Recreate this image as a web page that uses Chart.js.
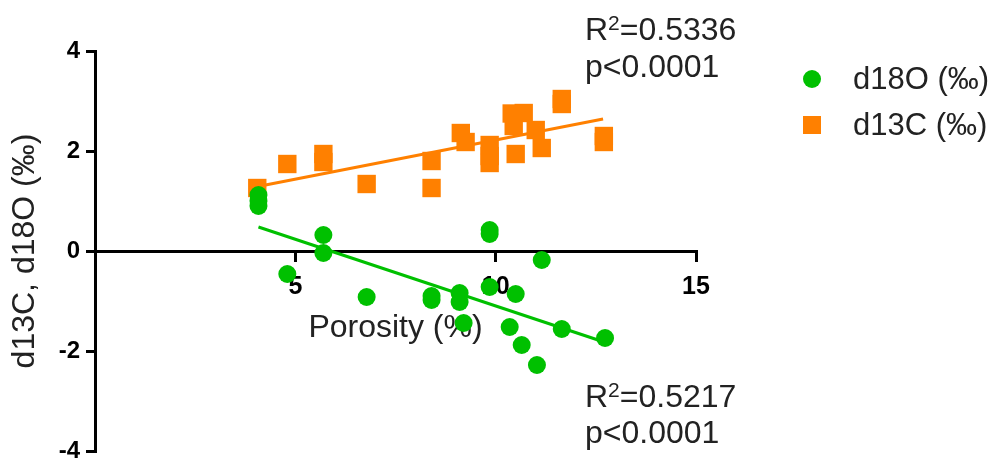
<!DOCTYPE html>
<html lang="en">

<head>
    <meta charset="UTF-8">
    <title>Porosity vs d13C / d18O</title>
    <style>
        html, body {
            margin: 0;
            padding: 0;
            background: #fff;
        }

        .box {
            width: 1003px;
            height: 464px;
        }
    </style>
</head>

<body>
    <div class="box">
        <canvas id="myChart"></canvas>
    </div>
    <script src="https://cdn.jsdelivr.net/npm/chart.js@4.4.1/dist/chart.umd.min.js"></script>
    <script>
        // d13C points (orange squares)
        const porosityC = [4.05, 4.8, 5.7, 5.7, 6.78, 8.4, 8.4, 9.13, 9.25, 9.85, 9.85, 9.85, 10.4, 10.45, 10.7, 10.5, 11.0, 11.15, 11.65, 11.65, 12.7, 12.7];
        const d13C = [1.26, 1.74, 1.94, 1.78, 1.34, 1.80, 1.26, 2.36, 2.18, 2.12, 1.90, 1.76, 2.75, 2.50, 2.76, 1.94, 2.42, 2.06, 3.04, 2.94, 2.30, 2.18];

        // d18O points (green circles)
        const porosityO = [4.08, 4.08, 4.08, 5.7, 5.7, 4.8, 6.78, 8.4, 8.4, 9.1, 9.1, 9.2, 9.85, 9.85, 9.85, 10.5, 10.35, 10.65, 11.15, 11.03, 11.65, 12.73];
        const d18O = [1.12, 1.0, 0.9, 0.32, -0.04, -0.46, -0.92, -0.90, -0.98, -0.84, -1.02, -1.44, 0.42, 0.34, -0.72, -0.86, -1.52, -1.88, -0.18, -2.28, -1.56, -1.74];

        // regression lines, end points
        const fitCx = [4.0, 12.68];
        const fitCy = [1.28, 2.64];
        const fitOx = [4.08, 12.78];
        const fitOy = [0.48, -1.84];

        const xTicks = [5, 10, 15];
        const yTicks = [-4, -2, 0, 2, 4];

        const green = "#00c000";
        const orange = "#ff8000";

        function toXY(xs, ys) {
            return xs.map((x, i) => ({ x: x, y: ys[i] }));
        }

        // R2 notes and legend
        const notes = {
            id: "notes",
            afterDraw(chart) {
                const ctx = chart.ctx;
                ctx.save();
                ctx.fillStyle = "#222";
                ctx.textBaseline = "alphabetic";
                ctx.textAlign = "left";

                function rLine(x, y, val) {
                    ctx.font = "32px Arial, 'Liberation Sans'";
                    ctx.fillText("R", x, y);
                    let w = ctx.measureText("R").width;
                    ctx.font = "21px Arial, 'Liberation Sans'";
                    ctx.fillText("2", x + w, y - 10);
                    w += ctx.measureText("2").width;
                    ctx.font = "32px Arial, 'Liberation Sans'";
                    ctx.fillText("=" + val, x + w, y);
                }
                rLine(585, 40, "0.5336");
                ctx.fillText("p<0.0001", 585, 77);
                rLine(585, 407, "0.5217");
                ctx.fillText("p<0.0001", 585, 443);

                // legend
                ctx.fillStyle = green;
                ctx.beginPath();
                ctx.arc(812, 79, 9, 0, Math.PI * 2);
                ctx.fill();
                ctx.fillStyle = orange;
                ctx.fillRect(803, 116, 18, 18);

                ctx.fillStyle = "#222";
                ctx.textBaseline = "middle";
                ctx.font = "31px Arial, 'Liberation Sans'";
                ctx.fillText(chart.data.datasets[0].label, 853, 80);
                ctx.fillText(chart.data.datasets[1].label, 853, 126);
                ctx.restore();
            }
        };

        const myChart = document.getElementById("myChart");
        new Chart(myChart, {
            type: "scatter",
            data: {
                datasets: [{
                    label: "d18O (‰)",
                    data: toXY(porosityO, d18O),
                    backgroundColor: green,
                    borderWidth: 0,
                    pointStyle: "circle",
                    pointRadius: 9,
                    order: 1,
                },
                {
                    label: "d13C (‰)",
                    data: toXY(porosityC, d13C),
                    backgroundColor: orange,
                    borderWidth: 0,
                    pointStyle: "rect",
                    pointRadius: 13,
                    order: 3,
                },
                {
                    label: "fitO",
                    type: "line",
                    data: toXY(fitOx, fitOy),
                    borderColor: green,
                    borderWidth: 3,
                    pointRadius: 0,
                    order: 2,
                },
                {
                    label: "fitC",
                    type: "line",
                    data: toXY(fitCx, fitCy),
                    borderColor: orange,
                    borderWidth: 3,
                    pointRadius: 0,
                    order: 2,
                }]
            },
            options: {
                responsive: true,
                maintainAspectRatio: false,
                animation: false,
                layout: {
                    padding: { top: 51, right: 307, bottom: 13, left: 0 }
                },
                plugins: {
                    legend: { display: false },
                    tooltip: { enabled: false },
                },
                scales: {
                    x: {
                        type: "linear",
                        position: { y: 0 },
                        min: 0,
                        max: 15,
                        afterBuildTicks: (s) => { s.ticks = xTicks.map(v => ({ value: v })); },
                        grid: { drawOnChartArea: false, color: "#000", lineWidth: 3, tickLength: 9 },
                        border: { color: "#000", width: 3 },
                        ticks: {
                            color: "#000",
                            font: { family: "Arial, 'Liberation Sans'", size: 25, weight: "bold" },
                            padding: 12,
                            maxRotation: 0,
                        },
                        title: {
                            display: true,
                            text: "Porosity (%)",
                            color: "#222",
                            font: { family: "Arial, 'Liberation Sans'", size: 32 },
                            padding: { top: -5, bottom: 0 },
                        },
                    },
                    y: {
                        type: "linear",
                        min: -4,
                        max: 4,
                        afterBuildTicks: (s) => { s.ticks = yTicks.map(v => ({ value: v })); },
                        afterFit: (s) => {
                            s.width = 95;
                            s.paddingTop = 0;
                            s.paddingBottom = 0;
                        },
                        grid: { drawOnChartArea: false, color: "#000", lineWidth: 3, tickLength: 9 },
                        border: { color: "#000", width: 3 },
                        ticks: {
                            color: "#000",
                            font: { family: "Arial, 'Liberation Sans'", size: 24, weight: "bold" },
                            padding: 6,
                        },
                        title: {
                            display: true,
                            text: "d13C, d18O (‰)",
                            color: "#222",
                            font: { family: "Arial, 'Liberation Sans'", size: 32 },
                            padding: { top: 6, bottom: 0 },
                        },
                    }
                }
            },
            plugins: [notes]
        });
    </script>
</body>

</html>
